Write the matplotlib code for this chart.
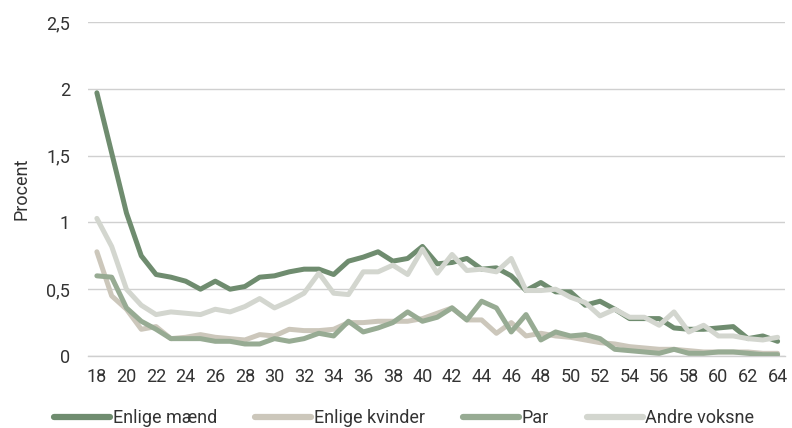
import matplotlib
matplotlib.use("Agg")
import matplotlib.pyplot as plt
import numpy as np

ages = list(range(18, 65))

enlige_maend = [1.97, 1.52, 1.07, 0.75, 0.61, 0.59, 0.56, 0.50, 0.56, 0.50,
                0.52, 0.59, 0.60, 0.63, 0.65, 0.65, 0.61, 0.71, 0.74, 0.78,
                0.71, 0.73, 0.82, 0.69, 0.70, 0.73, 0.65, 0.66, 0.60, 0.49,
                0.55, 0.48, 0.48, 0.38, 0.41, 0.35, 0.28, 0.28, 0.28, 0.21,
                0.20, 0.20, 0.21, 0.22, 0.13, 0.15, 0.11]

enlige_kvinder = [0.78, 0.45, 0.35, 0.20, 0.22, 0.13, 0.14, 0.16, 0.14, 0.13,
                  0.12, 0.16, 0.15, 0.20, 0.19, 0.19, 0.20, 0.25, 0.25, 0.26,
                  0.26, 0.26, 0.28, 0.32, 0.36, 0.27, 0.27, 0.17, 0.25, 0.15,
                  0.17, 0.15, 0.14, 0.12, 0.10, 0.09, 0.07, 0.06, 0.05, 0.05,
                  0.04, 0.03, 0.03, 0.03, 0.03, 0.02, 0.02]

par = [0.60, 0.59, 0.36, 0.26, 0.20, 0.13, 0.13, 0.13, 0.11, 0.11,
       0.09, 0.09, 0.13, 0.11, 0.13, 0.17, 0.15, 0.26, 0.18, 0.21,
       0.25, 0.33, 0.26, 0.29, 0.36, 0.27, 0.41, 0.36, 0.18, 0.31,
       0.12, 0.18, 0.15, 0.16, 0.13, 0.05, 0.04, 0.03, 0.02, 0.05,
       0.02, 0.02, 0.03, 0.03, 0.02, 0.01, 0.01]

andre_voksne = [1.03, 0.82, 0.50, 0.38, 0.31, 0.33, 0.32, 0.31, 0.35, 0.33,
                0.37, 0.43, 0.36, 0.41, 0.47, 0.62, 0.47, 0.46, 0.63, 0.63,
                0.68, 0.61, 0.80, 0.62, 0.76, 0.64, 0.65, 0.63, 0.73, 0.49,
                0.49, 0.50, 0.44, 0.40, 0.30, 0.35, 0.29, 0.29, 0.23, 0.33,
                0.18, 0.23, 0.15, 0.15, 0.13, 0.12, 0.14]

series = [
    ("Enlige mænd", enlige_maend, "#6f8c6f"),
    ("Enlige kvinder", enlige_kvinder, "#ccc7bb"),
    ("Par", par, "#97ab93"),
    ("Andre voksne", andre_voksne, "#d3d6cf"),
]

yticks = [0, 0.5, 1, 1.5, 2, 2.5]
ytick_labels = ["0", "0,5", "1", "1,5", "2", "2,5"]
xticks = list(range(18, 65, 2))

plt.rcParams['font.family'] = ['Roboto', 'DejaVu Sans']

fig = plt.figure(figsize=(7.92, 4.28), dpi=100)
ax = fig.add_axes([88/792, 1-356/428, (785-88)/792, (356-22)/428])

lines = []
for i, (name, vals, col) in enumerate(series):
    ln, = ax.plot(ages, vals, color=col, lw=3.6, solid_capstyle='round',
                  solid_joinstyle='round', label=name, zorder=3 + i)
    lines.append(ln)

ax.set_ylim(0, 2.5)
ax.set_xlim(17.4, 64.5)
ax.set_yticks(yticks)
ax.set_yticklabels(ytick_labels)
ax.set_xticks(xticks)
ax.set_xticklabels([str(x) for x in xticks])
ax.grid(axis='y', color='#d0d0d0', lw=1)
ax.set_axisbelow(True)
for s in ['top', 'right', 'left']:
    ax.spines[s].set_visible(False)
ax.spines['bottom'].set_color('#cfcfcf')
ax.spines['bottom'].set_linewidth(1)
ax.tick_params(axis='both', length=0, labelsize=13, colors='#333333')
ax.tick_params(axis='y', pad=13)
ax.tick_params(axis='x', pad=9)
ax.set_ylabel("Procent", fontsize=13, color='#333333', labelpad=11)

leg = fig.legend(lines, [s[0] for s in series], loc='center left',
                 bbox_to_anchor=(38/792, 1-418/428), ncol=4, frameon=False,
                 fontsize=13, handlelength=3.1, handletextpad=0.15,
                 columnspacing=2.1, labelcolor='#333333')
for h in leg.get_lines():
    h.set_linewidth(4.5)

fig.savefig("out.png", dpi=100)
